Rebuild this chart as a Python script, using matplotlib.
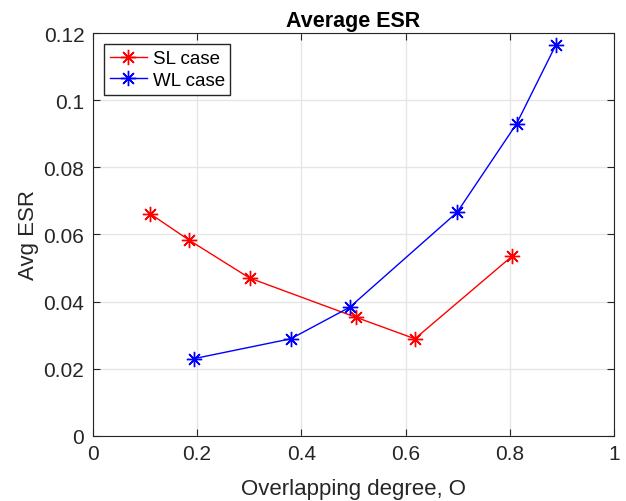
import matplotlib
matplotlib.use('Agg')
import matplotlib.pyplot as plt

# data
sl_x = [0.110, 0.185, 0.301, 0.505, 0.618, 0.805]
sl_y = [0.0662, 0.0583, 0.0470, 0.0353, 0.0289, 0.0536]
wl_x = [0.195, 0.380, 0.493, 0.699, 0.813, 0.888]
wl_y = [0.0230, 0.0289, 0.0383, 0.0666, 0.0930, 0.1164]
x_ticks = [0, 0.2, 0.4, 0.6, 0.8, 1]
x_labels = ['0', '0.2', '0.4', '0.6', '0.8', '1']
y_ticks = [0, 0.02, 0.04, 0.06, 0.08, 0.1, 0.12]
y_labels = ['0', '0.02', '0.04', '0.06', '0.08', '0.1', '0.12']

plt.rcParams['font.family'] = ['Liberation Sans', 'DejaVu Sans']

fig = plt.figure(figsize=(6.26, 5.02), dpi=100)
ax = fig.add_axes([0.148, 0.130, 0.833, 0.802])

star = (8, 2, 0)  # matlab-like asterisk
ax.plot(sl_x, sl_y, color='#ff0000', marker=star, markersize=11, linewidth=1,
        markeredgewidth=1, label='SL case')
ax.plot(wl_x, wl_y, color='#0000ff', marker=star, markersize=11, linewidth=1,
        markeredgewidth=1, label='WL case')

ax.set_xlim(0, 1)
ax.set_ylim(0, 0.12)
ax.set_xticks(x_ticks)
ax.set_xticklabels(x_labels)
ax.set_yticks(y_ticks)
ax.set_yticklabels(y_labels)
ax.tick_params(direction='in', labelsize=15, length=5, color='#262626',
               labelcolor='#262626', top=True, right=True, pad=6)
ax.grid(True, color='#e6e6e6', linewidth=1)
ax.set_axisbelow(True)
for s in ax.spines.values():
    s.set_color('#262626')

ax.set_xlabel('Overlapping degree, O', fontsize=16, color='#262626', labelpad=11)
ax.set_ylabel('Avg ESR', fontsize=16, color='#262626', labelpad=3)
ax.set_title('Average ESR', fontsize=15.5, fontweight='bold', pad=5)

leg = ax.legend(loc='upper left', fontsize=13.5, fancybox=False, framealpha=1,
                edgecolor='#262626', handlelength=2.0, borderaxespad=0.6,
                handletextpad=0.3, labelspacing=0.25, borderpad=0.3)
leg.get_frame().set_linewidth(1)

fig.savefig('out.png', dpi=100)
